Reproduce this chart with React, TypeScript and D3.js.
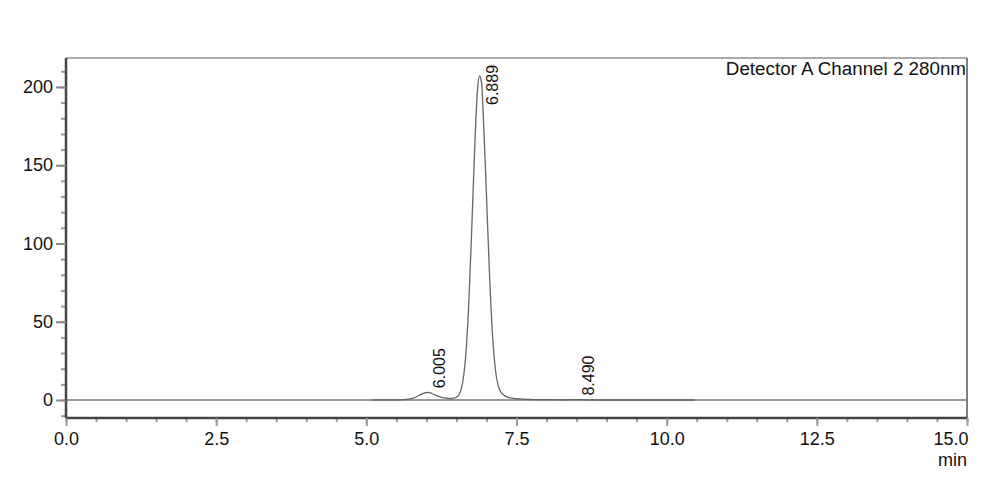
import React, { useEffect, useRef } from "react";
import * as d3 from "d3";

const CHART_WIDTH = 1003;
const CHART_HEIGHT = 484;

// signal (time in min, intensity)
const sigTime = [
  5.1, 5.3, 5.5, 5.6, 5.7, 5.75, 5.8, 5.85, 5.9, 5.95, 6.0, 6.05, 6.1, 6.15, 6.2, 6.25,
  6.3, 6.35, 6.4, 6.45, 6.5, 6.55, 6.6, 6.65, 6.7, 6.75, 6.8, 6.85, 6.885, 6.92, 6.95,
  7.0, 7.05, 7.1, 7.15, 7.2, 7.25, 7.3, 7.35, 7.4, 7.5, 7.6, 7.8, 8.0, 8.3, 8.49, 8.7,
  9.0, 9.5, 10.0, 10.47,
];
const sigValue = [
  0, 0.05, 0.1, 0.2, 0.5, 0.9, 1.5, 2.4, 3.4, 4.3, 4.8, 4.7, 4.0, 3.1, 2.3, 1.7,
  1.3, 1.0, 0.9, 1.2, 1.8, 3.9, 10.4, 26, 57, 104, 157, 198, 207, 202, 179,
  131, 81, 42, 19, 8.5, 4.5, 2.8, 1.9, 1.3, 0.8, 0.5, 0.3, 0.2, 0.1, 0.3, 0.1,
  0, 0, 0, 0,
];

const peakTimes = [6.005, 6.889, 8.49];
const peakLabels = ["6.005", "6.889", "8.490"];
const peakHeights = [5, 207, 0.3];

const xTicks = [0, 2.5, 5, 7.5, 10, 12.5, 15];
const yTicks = [0, 50, 100, 150, 200];

const FONT = "'Liberation Sans', Arial, sans-serif";

const App: React.FC = () => {
  const ref = useRef<SVGSVGElement>(null);

  useEffect(() => {
    document.body.style.margin = "0";
    if (!ref.current) return;
    const svg = d3.select(ref.current);
    svg.selectAll("*").remove();

    const margin = { top: 58, right: 36, bottom: 66, left: 66 };
    const width = CHART_WIDTH - margin.left - margin.right;
    const height = CHART_HEIGHT - margin.top - margin.bottom;

    const x = d3.scaleLinear().domain([0, 15]).range([0, width]);
    const y = d3.scaleLinear().domain([-11.5, 218.5]).range([height, 0]);

    const g = svg
      .append("g")
      .attr("transform", `translate(${margin.left},${margin.top})`);

    // top and right frame
    g.append("line")
      .attr("x1", 0).attr("x2", width).attr("y1", 0).attr("y2", 0)
      .attr("stroke", "#aaa").attr("stroke-width", 2);
    g.append("line")
      .attr("x1", width).attr("x2", width).attr("y1", 0).attr("y2", height)
      .attr("stroke", "#555").attr("stroke-width", 1.5);

    // zero baseline
    g.append("line")
      .attr("x1", 0).attr("x2", width).attr("y1", y(0)).attr("y2", y(0))
      .attr("stroke", "#999").attr("stroke-width", 2.2);

    // signal
    const pts = sigTime.map((t, i) => [t, sigValue[i]] as [number, number]);
    const line = d3
      .line<[number, number]>()
      .x((d) => x(d[0]))
      .y((d) => y(d[1]))
      .curve(d3.curveMonotoneX);
    g.append("path")
      .datum(pts)
      .attr("fill", "none")
      .attr("stroke", "#666")
      .attr("stroke-width", 1.3)
      .attr("d", line);

    // x axis
    g.append("g")
      .attr("transform", `translate(0,${height})`)
      .call(
        d3.axisBottom(x).tickValues(d3.range(0, 15.01, 0.5)).tickSize(4).tickFormat(() => "")
      )
      .call((s) => s.select(".domain").remove())
      .selectAll("line")
      .attr("stroke", "#999")
      .attr("stroke-width", 2);
    g.append("g")
      .attr("transform", `translate(0,${height})`)
      .call(d3.axisBottom(x).tickValues(xTicks).tickSize(8).tickPadding(6).tickFormat(d3.format(".1f")))
      .call((s) => s.select(".domain").attr("stroke", "#444").attr("stroke-width", 2.5).attr("d", `M0,0H${width}`))
      .call((s) => s.selectAll(".tick line").attr("stroke", "#999").attr("stroke-width", 2))
      .selectAll<SVGTextElement, number>("text")
      .attr("fill", "#111")
      .attr("text-anchor", (d) => (d === 15 ? "end" : "middle"))
      .attr("dx", (d) => (d === 15 ? 1 : 0))
      .style("font-family", FONT)
      .style("font-size", "18px");

    // y axis
    g.append("g")
      .call(d3.axisLeft(y).tickValues(d3.range(-10, 211, 10)).tickSize(5).tickFormat(() => ""))
      .call((s) => s.select(".domain").remove())
      .selectAll("line")
      .attr("stroke", "#999")
      .attr("stroke-width", 2);
    g.append("g")
      .call(d3.axisLeft(y).tickValues(yTicks).tickSize(10).tickPadding(3).tickFormat(d3.format("d")))
      .call((s) => s.select(".domain").attr("stroke", "#444").attr("stroke-width", 2.5).attr("d", `M0,0V${height}`))
      .call((s) => s.selectAll(".tick line").attr("stroke", "#888").attr("stroke-width", 2))
      .selectAll("text")
      .attr("fill", "#111")
      .style("font-family", FONT)
      .style("font-size", "18px");

    // peak labels, rotated, reading upward; the tallest is pinned under the frame
    peakTimes.forEach((t, i) => {
      const px = x(t) + 18;
      const top = y(peakHeights[i]);
      const py = top < 60 ? 47 : top - 4;
      g.append("text")
        .attr("transform", `translate(${px},${py}) rotate(-90)`)
        .attr("fill", "#111")
        .style("font-family", FONT)
        .style("font-size", "16px")
        .text(peakLabels[i]);
    });

    // detector caption
    g.append("text")
      .attr("x", width - 1)
      .attr("y", 17)
      .attr("text-anchor", "end")
      .attr("fill", "#111")
      .style("font-family", FONT)
      .style("font-size", "18.8px")
      .text("Detector A Channel 2 280nm");

    g.append("text")
      .attr("x", width)
      .attr("y", height + 48)
      .attr("text-anchor", "end")
      .attr("fill", "#111")
      .style("font-family", FONT)
      .style("font-size", "18px")
      .text("min");
  }, []);

  return (
    <svg
      ref={ref}
      width={CHART_WIDTH}
      height={CHART_HEIGHT}
      style={{ display: "block", background: "#fff" }}
    />
  );
};

export default App;
